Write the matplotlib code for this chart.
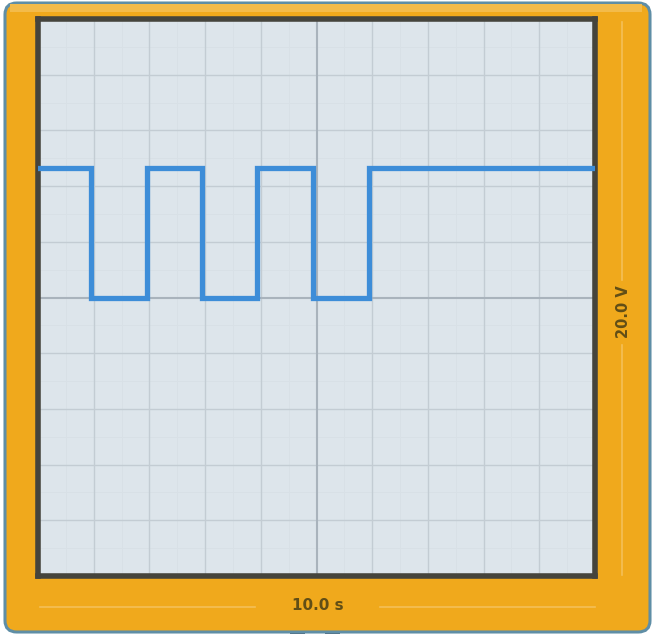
import numpy as np
from matplotlib import pyplot as plt
from matplotlib.patches import FancyBboxPatch, Rectangle

# signal (1 s/div, 2 V/div)
t_switch = [0, 0.95, 1.95, 2.95, 3.94, 4.94, 5.94, 10]
volts = [4.65, 0, 4.65, 0, 4.65, 0, 4.65, 4.65]
x_label = "10.0 s"
y_label = "20.0 V"

W, H = 653, 634
fig = plt.figure(figsize=(W / 100, H / 100), dpi=100)
fig.patch.set_facecolor('white')

def px(x, y, w, h):
    return (x / W, 1 - (y + h) / H, w / W, h / H)

# orange case
x0, y0, w0, h0 = px(5, 3, 645, 629)
case = FancyBboxPatch((x0, y0), w0, h0, boxstyle="round,pad=0,rounding_size=0.018",
                      transform=fig.transFigure, facecolor='#f0a91c',
                      edgecolor='#5f8ea6', linewidth=2.2, zorder=-3)
fig.patches.append(case)
# lighter top edge
x1, y1, w1, h1 = px(10, 4, 632, 8)
fig.patches.append(Rectangle((x1, y1), w1, h1, transform=fig.transFigure,
                             facecolor='#f3bb4a', edgecolor='none', zorder=-2))

# little tabs under the case
for tx in (290, 325):
    a = px(tx, 630, 15, 4)
    fig.patches.append(Rectangle(a[:2], a[2], a[3], transform=fig.transFigure,
                                 facecolor='#4a5f70', edgecolor='none', zorder=-4))

# dimension lines next to the labels
lc = '#f4bf58'
fig.add_artist(plt.Line2D([40 / W, 255 / W], [1 - 607 / H] * 2, color=lc, lw=1.2, zorder=-1))
fig.add_artist(plt.Line2D([380 / W, 595 / W], [1 - 607 / H] * 2, color=lc, lw=1.2, zorder=-1))
fig.add_artist(plt.Line2D([622 / W] * 2, [1 - 22 / H, 1 - 280 / H], color=lc, lw=1.2, zorder=-1))
fig.add_artist(plt.Line2D([622 / W] * 2, [1 - 345 / H, 1 - 575 / H], color=lc, lw=1.2, zorder=-1))

ax = fig.add_axes(px(38, 19, 557, 557))
ax.set_zorder(2)
ax.set_facecolor('#dde5eb')
ax.set_xlim(0, 10)
ax.set_ylim(-10, 10)

# grid: faint half-division lines, divisions, darker centre lines on top
for xv in np.arange(0.5, 10, 0.5):
    if xv == 5:
        ax.axvline(xv, color='#a9b3bc', lw=1.5, zorder=2)
    elif xv == round(xv):
        ax.axvline(xv, color='#c3ccd3', lw=1.0, zorder=1.5)
    else:
        ax.axvline(xv, color='#d8e0e6', lw=0.6, zorder=1)
for yv in np.arange(-9.0, 10, 1.0):
    if yv == 0:
        ax.axhline(yv, color='#a9b3bc', lw=1.5, zorder=2)
    elif yv % 2 == 0:
        ax.axhline(yv, color='#c3ccd3', lw=1.0, zorder=1.5)
    else:
        ax.axhline(yv, color='#d8e0e6', lw=0.6, zorder=1)

ax.step(t_switch, volts, where='post', color='#3d8dd8', lw=3.8,
        solid_joinstyle='miter', zorder=3)

ax.set_xticks([])
ax.set_yticks([])
for s in ax.spines.values():
    s.set_color('#45443c')
    s.set_linewidth(4)

fig.text(318 / W, 1 - 606 / H, x_label, ha='center', va='center',
         fontsize=11, fontweight='bold', color='#614e16', zorder=3)
fig.text(623 / W, 1 - 312 / H, y_label, ha='center', va='center', rotation=90,
         fontsize=10.5, fontweight='bold', color='#614e16', zorder=3)

fig.savefig('out.png', dpi=100, facecolor=fig.get_facecolor())
